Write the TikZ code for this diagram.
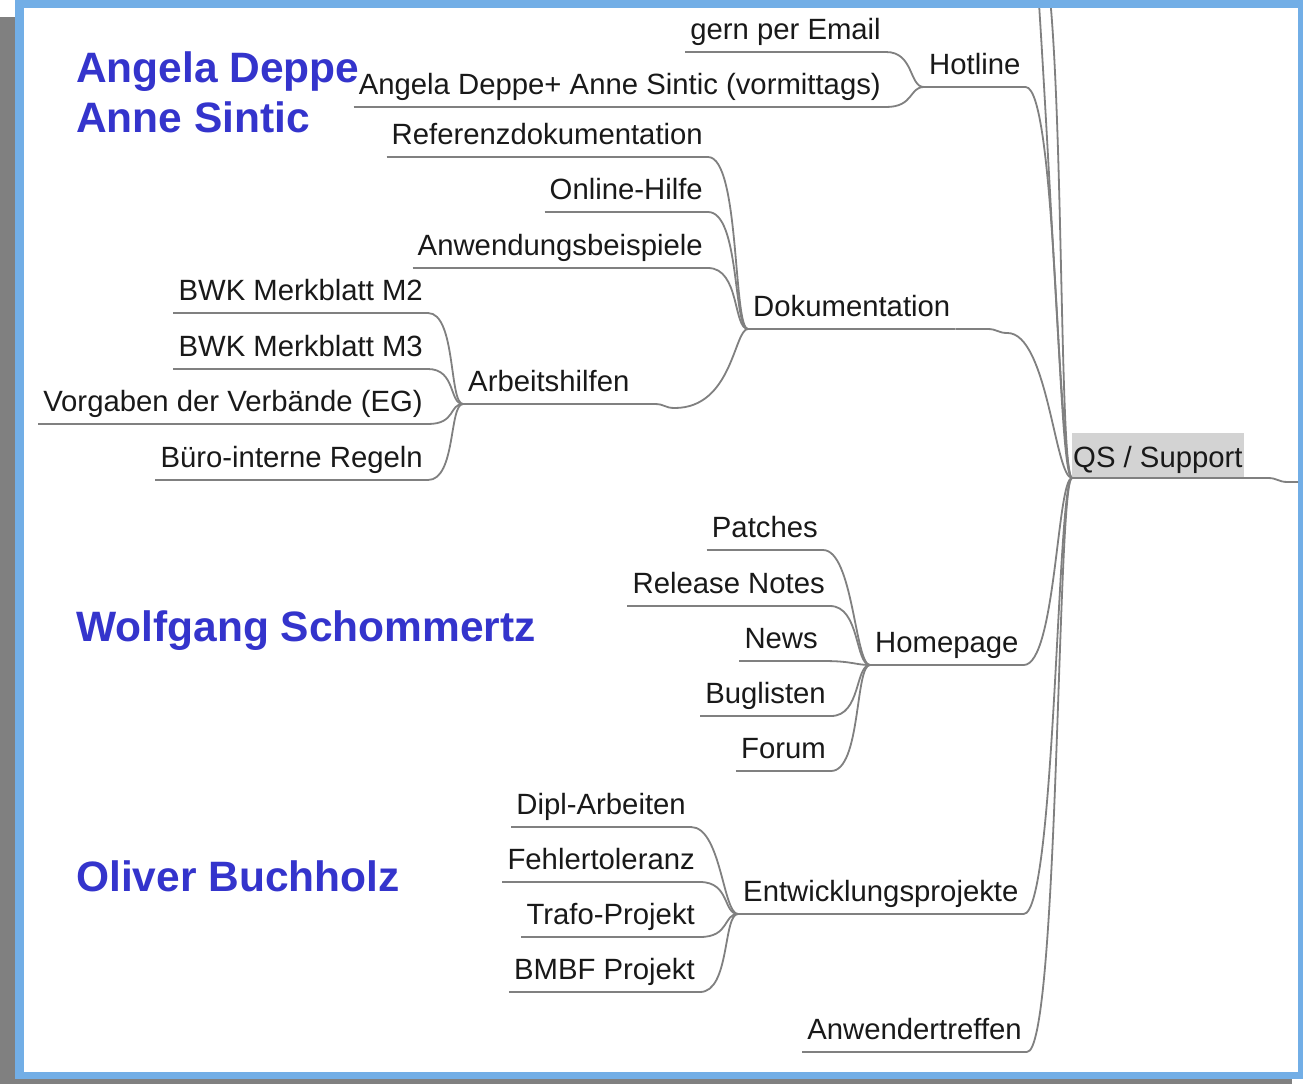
\documentclass[tikz,border=0pt]{standalone}
\usepackage{fontspec}
\setmainfont{Liberation Sans}
\definecolor{edgegray}{RGB}{128,128,128}
\definecolor{frameblue}{RGB}{114,174,230}
\definecolor{shadowgray}{RGB}{128,128,128}
\definecolor{rootgray}{RGB}{211,211,211}
\definecolor{persblue}{RGB}{52,52,204}
\definecolor{txt}{RGB}{25,25,25}
\newcommand\lblfont{\fontsize{29.3}{34}\selectfont}
\newcommand\persfont{\fontsize{42.5}{48}\selectfont\bfseries}
\begin{document}
\begin{tikzpicture}[x=1pt,y=-1pt,
  edge/.style={draw=edgegray, line width=1.8pt},
  topic/.style={font=\lblfont, text=txt, inner xsep=5pt, inner ysep=0pt, text height=21pt, text depth=12pt},
  leaf/.style={topic, anchor=south east},
  branch/.style={topic, anchor=south west},
  person/.style={font=\persfont, text=persblue, anchor=base west, inner sep=0pt}]
\useasboundingbox (0,0) rectangle (1303,1084);
% frame
\fill[shadowgray] (0,17) rectangle (1292,1084);
\fill[frameblue] (15,0) rectangle (1303,1079);
\fill[white] (24,8) rectangle (1298,1072);

% person labels
\node[person] (pAD) at (76,82) {Angela Deppe};
\node[person] (pAS) at (76,132) {Anne Sintic};
\node[person] (pWS) at (76,641) {Wolfgang Schommertz};
\node[person] (pOB) at (76,891) {Oliver Buchholz};

\begin{scope}
\clip (24,8) rectangle (1298,1072);
% root
\node[topic, anchor=south west, fill=rootgray, inner xsep=1pt, text height=35pt, text depth=10pt] (root) at (1072,478) {QS / Support};
\coordinate (qsparent) at (1400,482);
\coordinate (offA) at (1008,-250);
\coordinate (offB) at (1036,-60);

% first level
\node[branch] (hot)  at (924,87)  {Hotline};
\node[branch] (doku) at (748,329) {Dokumentation};
\node[branch] (home) at (870,665) {Homepage};
\node[branch] (entw) at (738,914) {Entwicklungsprojekte};
\node[leaf]   (anw)  at (1027,1052) {Anwendertreffen};

% Hotline
\node[leaf] (email) at (886,52)  {gern per Email};
\node[leaf] (adas)  at (886,107) {Angela Deppe+ Anne Sintic (vormittags)};
% Dokumentation
\node[leaf] (ref)  at (708,157) {Referenzdokumentation};
\node[leaf] (onl)  at (708,212) {Online-Hilfe};
\node[leaf] (anwb) at (708,268) {Anwendungsbeispiele};
\node[branch] (arb) at (463,404) {Arbeitshilfen};
% Arbeitshilfen
\node[leaf] (m2)  at (428,313) {BWK Merkblatt M2};
\node[leaf] (m3)  at (428,369) {BWK Merkblatt M3};
\node[leaf] (eg)  at (428,424) {Vorgaben der Verbände (EG)};
\node[leaf] (buero) at (428,480) {Büro-interne Regeln};
% Homepage
\node[leaf] (patch) at (823,550) {Patches};
\node[leaf] (rel)   at (830,606) {Release Notes};
\node[leaf] (news)  at (823,661) {News};
\node[leaf] (bug)   at (831,716) {Buglisten};
\node[leaf] (forum) at (831,771) {Forum};
% Entwicklungsprojekte
\node[leaf] (dipl)  at (691,827) {Dipl-Arbeiten};
\node[leaf] (fehl)  at (700,882) {Fehlertoleranz};
\node[leaf] (trafo) at (700,937) {Trafo-Projekt};
\node[leaf] (bmbf)  at (700,992) {BMBF Projekt};

% underlines
\foreach \n in {root,hot,doku,home,entw,anw,email,adas,ref,onl,anwb,arb,m2,m3,eg,buero,patch,rel,news,bug,forum,dipl,fehl,trafo,bmbf}
  \draw[edge] (\n.south west) -- (\n.south east);

% edge to parent of root
\draw[edge] (root.south east) -- ++(24,0) .. controls +(10,0) and +(-10,0) .. ++(20,4) -- (qsparent);

% root children
\foreach \c in {offA,offB}
  \draw[edge] (\c) .. controls +(30,0) and +(-15,0) .. (root.south west);
\foreach \c in {hot,home,entw,anw}
  \draw[edge] (\c.south east) .. controls +(32,0) and +(-15,0) .. (root.south west);
\draw[edge] (doku.south east) -- ++(32,0) .. controls +(10,0) and +(-10,0) .. ++(20,4) .. controls +(40,0) and +(-17,0) .. (root.south west);

% Hotline children
\foreach \c in {email,adas}
  \draw[edge] (\c.south east) .. controls +(28,0) and +(-15,0) .. (hot.south west);
% Dokumentation children
\foreach \c in {ref,onl,anwb}
  \draw[edge] (\c.south east) .. controls +(32,0) and +(-15,0) .. (doku.south west);
\draw[edge] (arb.south east) -- ++(20,0) .. controls +(10,0) and +(-10,0) .. ++(20,4) .. controls +(58,0) and +(-14,0) .. (doku.south west);
% Arbeitshilfen children
\foreach \c in {m2,m3,eg,buero}
  \draw[edge] (\c.south east) .. controls +(28,0) and +(-14,0) .. (arb.south west);
% Homepage children
\foreach \c in {patch,rel,news,bug,forum}
  \draw[edge] (\c.south east) .. controls +(30,0) and +(-15,0) .. (home.south west);
% Entwicklungsprojekte children
\foreach \c in {dipl,fehl,trafo,bmbf}
  \draw[edge] (\c.south east) .. controls +(30,0) and +(-15,0) .. (entw.south west);
\end{scope}
\end{tikzpicture}
\end{document}
